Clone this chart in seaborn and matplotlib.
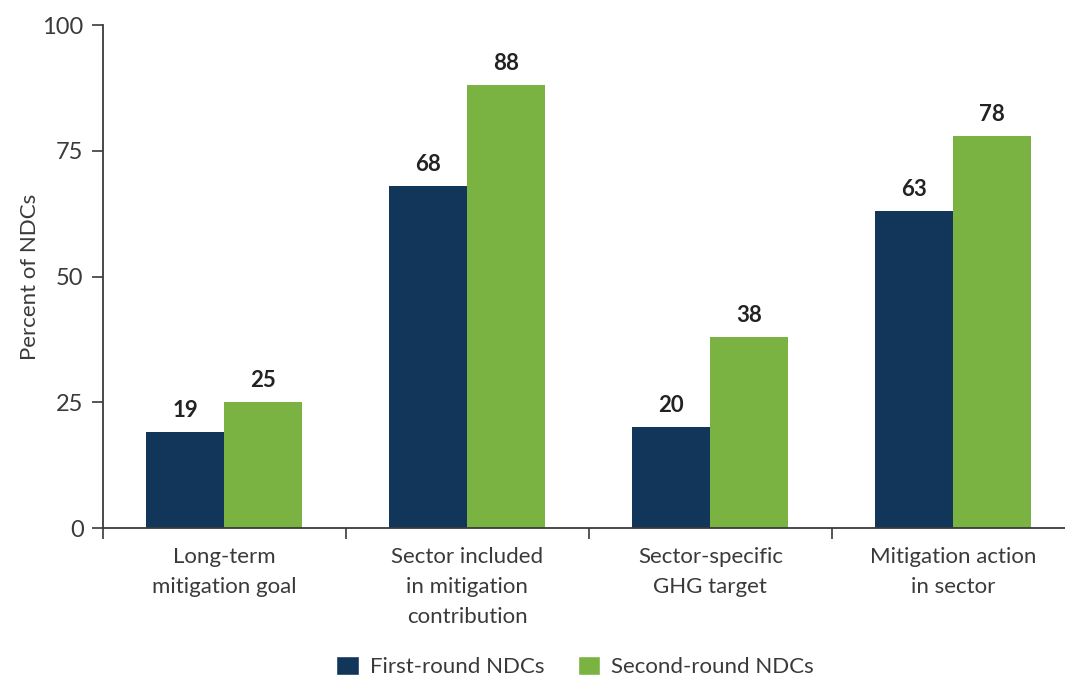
import seaborn as sns
import pandas as pd
import matplotlib.pyplot as plt
from matplotlib.patches import Patch

# chart data
categories = [
    'Long-term\nmitigation goal',
    'Sector included\nin mitigation\ncontribution',
    'Sector-specific\nGHG target',
    'Mitigation action\nin sector',
]
first_round = [19, 68, 20, 63]
second_round = [25, 88, 38, 78]
series_names = ['First-round NDCs', 'Second-round NDCs']
colors = ['#12365a', '#7ab342']

df = pd.DataFrame({
    'category': categories * 2,
    'value': first_round + second_round,
    'series': [series_names[0]] * 4 + [series_names[1]] * 4,
})

sns.set_style('white')
plt.rcParams['font.family'] = ['Lato', 'DejaVu Sans']
text_color = '#3a3a3a'

fig = plt.figure(figsize=(10.65, 6.78), dpi=100)
ax = fig.add_axes([0.0967, 0.2212, 0.9033, 0.7419])

sns.barplot(data=df, x='category', y='value', hue='series',
            palette=colors, width=0.642, saturation=1, ax=ax, legend=False,
            linewidth=0, edgecolor='none')

for cont in ax.containers:
    ax.bar_label(cont, padding=8, fontsize=16, fontweight='bold', color='#222222')

ax.set_ylim(0, 100)
ax.set_xlim(-0.5, 3.46)
ax.set_yticks([0, 25, 50, 75, 100])
ax.tick_params(axis='y', left=True, labelsize=17, colors=text_color,
               length=8, width=1.2, pad=6)
ax.tick_params(axis='x', which='major', bottom=False, labelsize=16,
               colors=text_color, length=0, pad=14)
ax.set_xticks([-0.5, 0.5, 1.5, 2.5], minor=True)
ax.tick_params(axis='x', which='minor', bottom=True, length=8, width=1.2,
               color=text_color)
for lbl in ax.get_xticklabels():
    lbl.set_linespacing(1.6)

ax.set_xlabel('')
ax.set_ylabel('Percent of NDCs', fontsize=16, color=text_color, labelpad=2)

for side in ['top', 'right']:
    ax.spines[side].set_visible(False)
for side in ['left', 'bottom']:
    ax.spines[side].set_color(text_color)
    ax.spines[side].set_linewidth(1.3)

handles = [Patch(facecolor=c, label=n) for c, n in zip(colors, series_names)]
fig.legend(handles=handles, loc='lower center', bbox_to_anchor=(0.54, -0.02),
           ncol=2, frameon=False, fontsize=16, handlelength=1.0, handleheight=1.0,
           handletextpad=0.5, columnspacing=1.5, labelcolor=text_color,
           borderpad=0.15)

fig.savefig('out.png', dpi=100)
